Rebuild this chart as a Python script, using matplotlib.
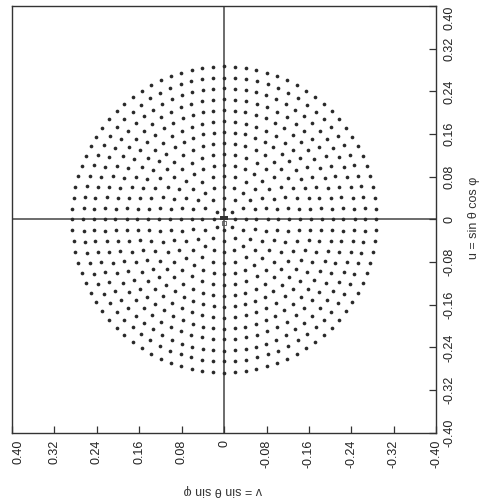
import numpy as np
import matplotlib
matplotlib.use("Agg")
import matplotlib.pyplot as plt
from matplotlib import font_manager

# ---- data ----
ring_radius = [0.020, 0.041, 0.061, 0.082, 0.102, 0.123, 0.143,
               0.164, 0.184, 0.205, 0.225, 0.246, 0.266, 0.287]
ring_count = [8, 12, 20, 24, 32, 36, 44, 52, 56, 64, 68, 76, 80, 88]
tick_values = [0.40, 0.32, 0.24, 0.16, 0.08, 0.0, -0.08, -0.16, -0.24, -0.32, -0.40]
tick_labels = ["0.40", "0.32", "0.24", "0.16", "0.08", "0",
               "-0.08", "-0.16", "-0.24", "-0.32", "-0.40"]
xlabel_text = "v = sin θ sin φ"
ylabel_text = "u = sin θ cos φ"

names = {f.name for f in font_manager.fontManager.ttflist}
fams = [n for n in ['Liberation Sans Narrow', 'Liberation Sans'] if n in names] + ['DejaVu Sans']
plt.rcParams['font.family'] = fams

# build point set from rings
vs, us = [], []
for r, n in zip(ring_radius, ring_count):
    ang = np.arange(n) * 2 * np.pi / n
    vs.extend(r * np.cos(ang))
    us.extend(r * np.sin(ang))

fig = plt.figure(figsize=(4.83, 5.01), dpi=100)
ax = fig.add_axes([0.025, 0.136, 0.878, 0.852])

ax.set_xlim(0.40, -0.40)
ax.set_ylim(-0.40, 0.40)

ax.axhline(0, color='#444444', lw=1.1, zorder=1)
ax.axvline(0, color='#444444', lw=1.1, zorder=1)

ax.scatter(vs, us, s=7, color='#2a2a2a', linewidths=0, zorder=2)
ax.scatter([0.004, -0.004], [0.003, 0.003], s=10, marker='s', color='#333333', linewidths=0, zorder=3)
ax.scatter([0.0], [-0.006], s=8, marker='s', facecolor='none', edgecolor='#555555', linewidths=0.6, zorder=3)

for sp in ax.spines.values():
    sp.set_color('#333333')
    sp.set_linewidth(1.0)

fs = 10.5 if 'Narrow' in fams[0] else 9
ax.yaxis.tick_right()
ax.set_xticks(tick_values)
ax.set_xticklabels(tick_labels, rotation=90, fontsize=fs, color='#222222')
ax.set_yticks(tick_values)
ax.set_yticklabels(tick_labels, rotation=90, fontsize=fs, color='#222222', va='center')
ax.tick_params(axis='x', direction='in', length=5, width=0.9, pad=5, colors='#333333',
               top=False)
ax.tick_params(axis='y', direction='in', length=5, width=0.9, pad=5, colors='#333333',
               left=False, right=True)
for lab in ax.get_xticklabels() + ax.get_yticklabels():
    lab.set_color('#222222')
ax.get_yticklabels()[0].set_va('top')
ax.get_xticklabels()[0].set_ha('left')

fig.text(0.462, 0.022, xlabel_text, rotation=180, ha='center', va='center',
         fontsize=9, color='#333333')
fig.text(0.982, 0.565, ylabel_text, rotation=90, ha='center', va='center',
         fontsize=9, color='#333333')

fig.savefig("out.png", dpi=100)
